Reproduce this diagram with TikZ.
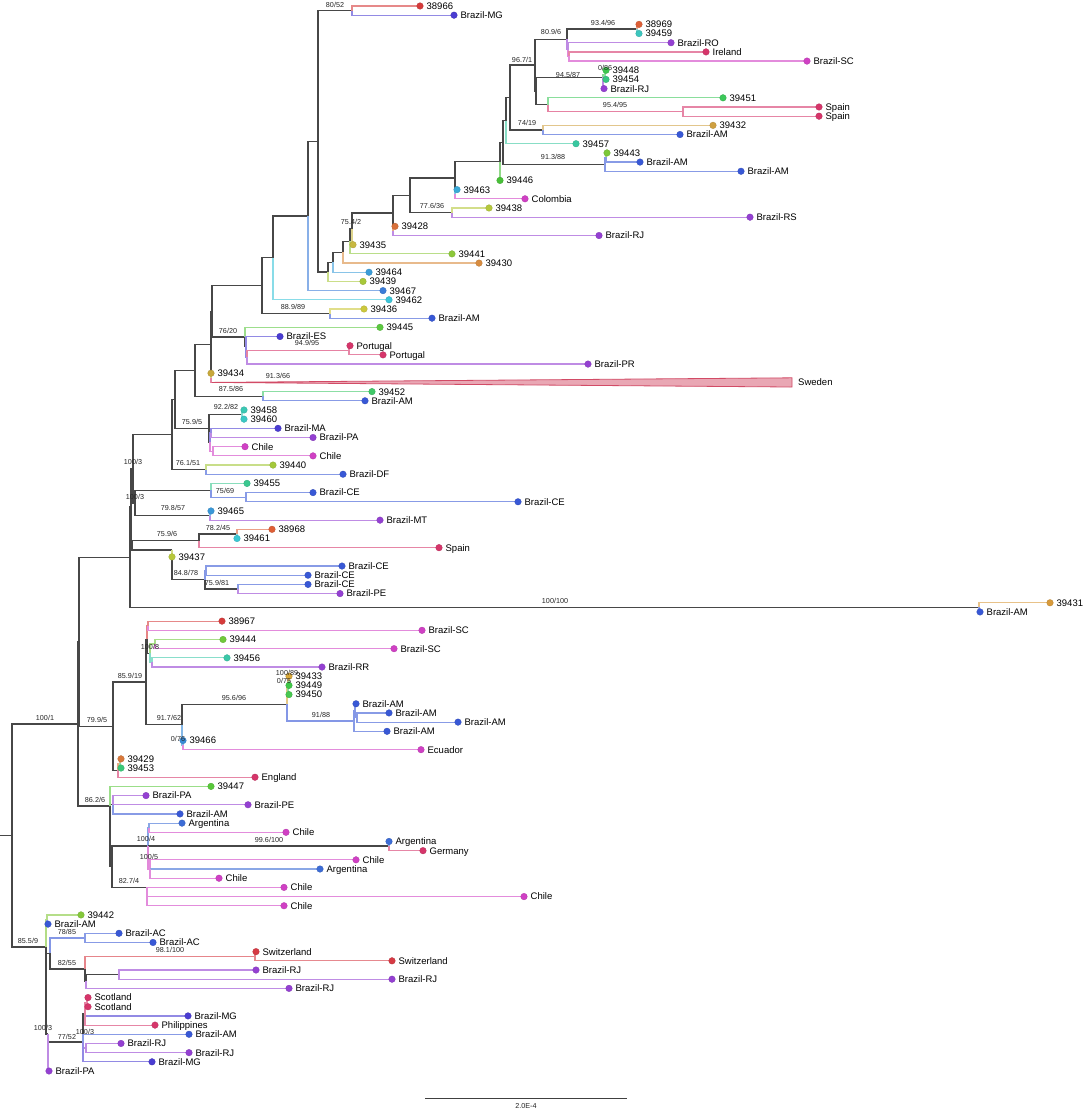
\documentclass[tikz,border=0pt]{standalone}
\usepackage{fontspec}
\setmainfont{Liberation Sans}
\usetikzlibrary{calc}
\pgfdeclarelayer{bg}
\pgfdeclarelayer{paper}
\pgfsetlayers{paper,bg,main}
\definecolor{cRed}{HTML}{D63B3B}
\definecolor{cOrRed}{HTML}{DE5F36}
\definecolor{cIndigo}{HTML}{4A3CD2}
\definecolor{cBlue}{HTML}{3858D6}
\definecolor{cArg}{HTML}{3C6CD6}
\definecolor{cPurple}{HTML}{9440D2}
\definecolor{cMag}{HTML}{D040C4}
\definecolor{cCrim}{HTML}{D6356A}
\definecolor{cSwiss}{HTML}{D63A44}
\definecolor{swf}{HTML}{E9A7B4}
\definecolor{swd}{HTML}{D24B66}
\definecolor{k39459}{HTML}{3CC6BE}
\definecolor{k39448}{HTML}{3DC84E}
\definecolor{k39454}{HTML}{38C880}
\definecolor{k39451}{HTML}{3CC85A}
\definecolor{k39432}{HTML}{CFA040}
\definecolor{k39457}{HTML}{38C8A0}
\definecolor{k39443}{HTML}{7CC838}
\definecolor{k39446}{HTML}{48C038}
\definecolor{k39463}{HTML}{3AAAD8}
\definecolor{k39438}{HTML}{B5C83C}
\definecolor{k39428}{HTML}{D8703A}
\definecolor{k39435}{HTML}{C8B840}
\definecolor{k39441}{HTML}{8CC83A}
\definecolor{k39430}{HTML}{D88C40}
\definecolor{k39464}{HTML}{3A9CD8}
\definecolor{k39439}{HTML}{A8C83A}
\definecolor{k39467}{HTML}{3A7CD8}
\definecolor{k39462}{HTML}{3AC4D8}
\definecolor{k39436}{HTML}{CCC83C}
\definecolor{k39445}{HTML}{5CC840}
\definecolor{k39434}{HTML}{C8A83A}
\definecolor{k39452}{HTML}{40C868}
\definecolor{k39458}{HTML}{3AC8B4}
\definecolor{k39460}{HTML}{3AC8C4}
\definecolor{k39440}{HTML}{A4C83A}
\definecolor{k39455}{HTML}{3AC890}
\definecolor{k39465}{HTML}{3A98D8}
\definecolor{k39461}{HTML}{3AC8D4}
\definecolor{k39437}{HTML}{B8C83A}
\definecolor{k39431}{HTML}{D89A3A}
\definecolor{k39444}{HTML}{70C83A}
\definecolor{k39456}{HTML}{3AC8A8}
\definecolor{k39433}{HTML}{D8A83A}
\definecolor{k39449}{HTML}{40C848}
\definecolor{k39450}{HTML}{48C850}
\definecolor{k39466}{HTML}{3A8CD8}
\definecolor{k39429}{HTML}{D8783A}
\definecolor{k39453}{HTML}{3AC878}
\definecolor{k39447}{HTML}{58C83A}
\definecolor{k39442}{HTML}{84C83A}
\tikzset{
  dotn/.style={circle, inner sep=0pt, minimum size=6.6pt, fill=#1, draw=#1!85!black, line width=0.3pt},
  lab/.style={font=\fontsize{9.5}{10}\selectfont, inner sep=0pt, anchor=base west},
  blab/.style={font=\fontsize{7.2}{8}\selectfont, inner sep=0pt, text=black!85},
  ie/.style={draw=black!72, line width=1.3pt},
  iec/.style={draw=#1!62!white, line width=1.25pt},
  te/.style={draw=#1!60!white, line width=1.2pt},
}
\newcommand{\inod}[3]{\coordinate (#1) at (#2,{6+(#3-1)*9.181});}
\newcommand{\iedge}[2]{\draw[ie] (#1) |- (#2);}
\newcommand{\cedge}[3]{\draw[iec=#1] (#2) |- (#3);}
\newcommand{\leafn}[6]{%
  \node[dotn=#5] (#1) at (#4,{6+(#3-1)*9.181}) {};%
  \node[lab] (#1t) at ([xshift=3pt,yshift=-3.4pt]#1.east) {#6};%
  \begin{pgfonlayer}{bg}\draw[te=#5] (#2) |- (#1);\end{pgfonlayer}}
\begin{document}
\begin{tikzpicture}[x=1pt,y=-1pt]
\begin{pgfonlayer}{paper}
\fill[white] (0,0) rectangle (1084,1110);
\end{pgfonlayer}
\path[use as bounding box] (0,0) rectangle (1084,1110);
% internal nodes
\inod{n8052}{352}{1.5}
\inod{n934}{637}{3.5}
\inod{nire}{569}{6.5}
\inod{nro}{568}{5.75}
\inod{n809}{567}{4.625}
\inod{n086}{605}{8.5}
\inod{n945}{603}{8.75}
\inod{nsp}{683}{12.5}
\inod{ng51}{548}{11.75}
\inod{p16}{536}{10.25}
\inod{p15}{535}{7.44}
\inod{n7419}{543}{14.5}
\inod{p14}{510}{10.97}
\inod{p13}{506}{13.49}
\inod{n913a}{606}{17.5}
\inod{n913}{605}{18.25}
\inod{p12}{503}{15.87}
\inod{p10}{500}{17.94}
\inod{p11}{455}{21.5}
\inod{p8}{455}{19.72}
\inod{p9}{452}{23.5}
\inod{p6}{410}{21.61}
\inod{p7}{393}{25.5}
\inod{p5}{393}{23.55}
\inod{p4a}{352}{25.28}
\inod{p4}{350}{26.64}
\inod{p3}{343}{27.82}
\inod{p2}{333}{28.91}
\inod{p1}{328}{29.96}
\inod{na}{318}{15.73}
\inod{nb}{308}{23.86}
\inod{nc}{273}{28.43}
\inod{ne}{330}{34.5}
\inod{nd}{262}{31.47}
\inod{nport}{349}{38.5}
\inod{ng3}{247}{39.25}
\inod{ng2}{246}{38.125}
\inod{n7620}{245}{37.06}
\inod{nf1}{212}{34.26}
\inod{nsw}{211}{41.5}
\inod{nf}{211}{37.88}
\inod{n875}{263}{43.5}
\inod{nh}{195}{40.69}
\inod{n922}{242}{45.5}
\inod{nm1}{211}{47.5}
\inod{nm2}{213}{49.5}
\inod{nm}{210}{48.5}
\inod{n7595}{209}{47}
\inod{nh2}{175}{43.85}
\inod{n761}{206}{51.5}
\inod{nj}{172}{47.67}
\inod{n7569b}{246}{54.5}
\inod{nk}{211}{53.75}
\inod{n798}{210}{56.5}
\inod{u4}{135}{55.125}
\inod{u2}{133}{51.4}
\inod{n782}{237}{58.5}
\inod{n7596}{199}{59.25}
\inod{nq}{206}{62.5}
\inod{n75981}{238}{64.5}
\inod{n848b}{205}{63.5}
\inod{n848}{172}{60.25}
\inod{u3}{132}{59.75}
\inod{u1}{131}{55.57}
\inod{n31}{979}{66.5}
\inod{a1}{130}{61.04}
\inod{pa}{148}{68.5}
\inod{pb}{155}{70.5}
\inod{pc}{152}{72.5}
\inod{nx}{150}{71.5}
\inod{a2c}{147}{70}
\inod{nt1}{289}{74.5}
\inod{nt}{288}{75.25}
\inod{n91b}{357}{78.5}
\inod{n91a}{355}{77.75}
\inod{n91}{354}{78.875}
\inod{n956}{287}{77.06}
\inod{n076}{183}{81.5}
\inod{a2d}{182}{79.28}
\inod{a2a}{146}{74.64}
\inod{nr}{120}{83.5}
\inod{a2b}{118}{84.25}
\inod{a2}{113}{79.45}
\inod{ap}{79}{70.24}
\inod{nv}{113}{88}
\inod{g1}{149}{90.5}
\inod{ag}{389}{92.5}
\inod{g2}{150}{95}
\inod{g0}{148}{92.5}
\inod{a3b}{147}{97}
\inod{a3m}{112}{94.75}
\inod{A3}{110}{88.14}
\inod{a}{78}{79.19}
\inod{b1}{47}{100.5}
\inod{n7885}{85}{102.5}
\inod{sw}{255}{104.5}
\inod{rjp}{119}{106.5}
\inod{q}{86}{107.25}
\inod{n8255}{85}{105.875}
\inod{b3}{50}{104.19}
\inod{scot}{87}{109.5}
\inod{sa}{85}{110.75}
\inod{sb}{86}{114.5}
\inod{n7752}{83}{113.84}
\inod{b5}{48}{112.97}
\inod{B}{46}{103.5}
\inod{root}{12}{91.35}
\inod{r0}{0}{91.35}
\inod{swA}{211.5}{42}
\inod{swE}{792}{42}
% internal edges
\begin{pgfonlayer}{bg}
\iedge{r0}{root}
\iedge{root}{a}\iedge{root}{B}
\iedge{a}{ap}\iedge{a}{A3}
\iedge{ap}{a1}\iedge{ap}{a2}
\iedge{a1}{u1}\iedge{a1}{n31}
\iedge{u1}{u2}\iedge{u1}{u3}
\iedge{u2}{nj}\iedge{u2}{u4}
\iedge{nj}{nh2}\iedge{nj}{n761}
\iedge{nh2}{nh}\iedge{nh2}{n7595}
\iedge{nh}{nf}\iedge{nh}{n875}
\iedge{nf}{nf1}\iedge{nf}{nsw}
\iedge{nf1}{nd}\iedge{nf1}{n7620}
\iedge{nd}{nc}\iedge{nd}{ne}
\iedge{nc}{nb}
\iedge{nb}{na}
\iedge{na}{n8052}\iedge{na}{p1}
\iedge{p1}{p2}\iedge{p2}{p3}\iedge{p3}{p4}\iedge{p4}{p4a}\iedge{p4a}{p5}
\iedge{p5}{p6}\iedge{p5}{p7}
\iedge{p6}{p8}\iedge{p6}{p9}
\iedge{p8}{p10}\iedge{p8}{p11}
\iedge{p10}{p12}
\iedge{p12}{p13}\iedge{p12}{n913}
\iedge{p13}{p14}
\iedge{p14}{p15}\iedge{p14}{n7419}
\iedge{p15}{n809}\iedge{p15}{p16}
\iedge{n809}{n934}\cedge{cPurple}{n809}{nro}
\cedge{cMag}{nro}{nire}
\iedge{p16}{n945}\iedge{p16}{ng51}
\cedge{k39448}{n945}{n086}
\cedge{cCrim}{ng51}{nsp}
\cedge{cBlue}{n913}{n913a}
\iedge{n7620}{ng2}\cedge{cIndigo}{ng2}{ng3}
\cedge{cCrim}{ng3}{nport}
\iedge{n7595}{n922}\iedge{n7595}{nm}
\cedge{cIndigo}{nm}{nm1}\cedge{cMag}{nm}{nm2}
\iedge{u4}{nk}\iedge{u4}{n798}
\cedge{cBlue}{nk}{n7569b}
\iedge{u3}{n7596}\iedge{u3}{n848}
\iedge{n7596}{n782}
\iedge{n848}{n848b}
\cedge{cBlue}{n848b}{nq}\iedge{n848b}{n75981}
\iedge{a2}{a2a}\iedge{a2}{a2b}
\iedge{a2a}{a2c}\iedge{a2a}{a2d}
\cedge{cRed}{a2c}{pa}\iedge{a2c}{nx}
\cedge{k39444}{nx}{pb}\cedge{k39456}{nx}{pc}
\iedge{a2d}{n956}\cedge{k39466}{a2d}{n076}
\cedge{k39433}{n956}{nt}\cedge{cBlue}{n956}{n91}
\cedge{k39433}{nt}{nt1}
\cedge{cBlue}{n91}{n91a}\cedge{cBlue}{n91a}{n91b}
\cedge{k39429}{a2b}{nr}
\iedge{A3}{nv}\iedge{A3}{a3m}
\iedge{a3m}{g0}\iedge{a3m}{a3b}
\cedge{cArg}{g0}{g1}\iedge{g0}{ag}\cedge{cMag}{g0}{g2}
\cedge{k39442}{B}{b1}\iedge{B}{b3}\iedge{B}{b5}
\cedge{cBlue}{b3}{n7885}\iedge{b3}{n8255}
\cedge{cSwiss}{n8255}{sw}\iedge{n8255}{q}
\iedge{q}{rjp}
\iedge{b5}{n7752}
\iedge{n7752}{sa}\cedge{cPurple}{n7752}{sb}
\cedge{cCrim}{sa}{scot}
% Sweden collapsed clade
\draw[te=cCrim] (nsw) |- (swA);
\filldraw[fill=swf, draw=swd, line width=0.8pt] (swA) -- ([yshift=4.6pt]swE) -- ([yshift=-4.6pt]swE) -- cycle;
\end{pgfonlayer}
\node[lab] (SweT) at ([xshift=6pt,yshift=-3.4pt]swE) {Sweden};
% leaves
\leafn{L1}{n8052}{1}{420}{cRed}{38966}
\leafn{L2}{n8052}{2}{454}{cIndigo}{Brazil-MG}
\leafn{L3}{n934}{3}{639}{cOrRed}{38969}
\leafn{L4}{n934}{4}{639}{k39459}{39459}
\leafn{L5}{nro}{5}{671}{cPurple}{Brazil-RO}
\leafn{L6}{nire}{6}{706}{cCrim}{Ireland}
\leafn{L7}{nire}{7}{807}{cMag}{Brazil-SC}
\leafn{L8}{n086}{8}{606}{k39448}{39448}
\leafn{L9}{n086}{9}{606}{k39454}{39454}
\leafn{L10}{n945}{10}{604}{cPurple}{Brazil-RJ}
\leafn{L11}{ng51}{11}{723}{k39451}{39451}
\leafn{L12}{nsp}{12}{819}{cCrim}{Spain}
\leafn{L13}{nsp}{13}{819}{cCrim}{Spain}
\leafn{L14}{n7419}{14}{713}{k39432}{39432}
\leafn{L15}{n7419}{15}{680}{cBlue}{Brazil-AM}
\leafn{L16}{p13}{16}{576}{k39457}{39457}
\leafn{L17}{n913a}{17}{607}{k39443}{39443}
\leafn{L18}{n913a}{18}{640}{cBlue}{Brazil-AM}
\leafn{L19}{n913}{19}{741}{cBlue}{Brazil-AM}
\leafn{L20}{p10}{20}{500}{k39446}{39446}
\leafn{L21}{p11}{21}{457}{k39463}{39463}
\leafn{L22}{p11}{22}{525}{cMag}{Colombia}
\leafn{L23}{p9}{23}{489}{k39438}{39438}
\leafn{L24}{p9}{24}{750}{cPurple}{Brazil-RS}
\leafn{L25}{p7}{25}{395}{k39428}{39428}
\leafn{L26}{p7}{26}{599}{cPurple}{Brazil-RJ}
\leafn{L27}{p4a}{27}{353}{k39435}{39435}
\leafn{L28}{p4}{28}{452}{k39441}{39441}
\leafn{L29}{p3}{29}{479}{k39430}{39430}
\leafn{L30}{p2}{30}{369}{k39464}{39464}
\leafn{L31}{p1}{31}{363}{k39439}{39439}
\leafn{L32}{nb}{32}{383}{k39467}{39467}
\leafn{L33}{nc}{33}{389}{k39462}{39462}
\leafn{L34}{ne}{34}{364}{k39436}{39436}
\leafn{L35}{ne}{35}{432}{cBlue}{Brazil-AM}
\leafn{L36}{n7620}{36}{380}{k39445}{39445}
\leafn{L37}{ng2}{37}{280}{cIndigo}{Brazil-ES}
\leafn{L38}{nport}{38}{350}{cCrim}{Portugal}
\leafn{L39}{nport}{39}{383}{cCrim}{Portugal}
\leafn{L40}{ng3}{40}{588}{cPurple}{Brazil-PR}
\leafn{L41}{nsw}{41}{211}{k39434}{39434}
\leafn{L43}{n875}{43}{372}{k39452}{39452}
\leafn{L44}{n875}{44}{365}{cBlue}{Brazil-AM}
\leafn{L45}{n922}{45}{244}{k39458}{39458}
\leafn{L46}{n922}{46}{244}{k39460}{39460}
\leafn{L47}{nm1}{47}{278}{cIndigo}{Brazil-MA}
\leafn{L48}{nm1}{48}{313}{cPurple}{Brazil-PA}
\leafn{L49}{nm2}{49}{245}{cMag}{Chile}
\leafn{L50}{nm2}{50}{313}{cMag}{Chile}
\leafn{L51}{n761}{51}{273}{k39440}{39440}
\leafn{L52}{n761}{52}{343}{cBlue}{Brazil-DF}
\leafn{L53}{nk}{53}{247}{k39455}{39455}
\leafn{L54}{n7569b}{54}{313}{cBlue}{Brazil-CE}
\leafn{L55}{n7569b}{55}{518}{cBlue}{Brazil-CE}
\leafn{L56}{n798}{56}{211}{k39465}{39465}
\leafn{L57}{n798}{57}{380}{cPurple}{Brazil-MT}
\leafn{L58}{n782}{58}{272}{cOrRed}{38968}
\leafn{L59}{n782}{59}{237}{k39461}{39461}
\leafn{L60}{n7596}{60}{439}{cCrim}{Spain}
\leafn{L61}{n848}{61}{172}{k39437}{39437}
\leafn{L62}{nq}{62}{342}{cBlue}{Brazil-CE}
\leafn{L63}{nq}{63}{308}{cBlue}{Brazil-CE}
\leafn{L64}{n75981}{64}{308}{cBlue}{Brazil-CE}
\leafn{L65}{n75981}{65}{340}{cPurple}{Brazil-PE}
\leafn{L66}{n31}{66}{1050}{k39431}{39431}
\leafn{L67}{n31}{67}{980}{cBlue}{Brazil-AM}
\leafn{L68}{pa}{68}{222}{cRed}{38967}
\leafn{L69}{pa}{69}{422}{cMag}{Brazil-SC}
\leafn{L70}{pb}{70}{223}{k39444}{39444}
\leafn{L71}{pb}{71}{394}{cMag}{Brazil-SC}
\leafn{L72}{pc}{72}{227}{k39456}{39456}
\leafn{L73}{pc}{73}{322}{cPurple}{Brazil-RR}
\leafn{L74}{nt1}{74}{289}{k39433}{39433}
\leafn{L75}{nt1}{75}{289}{k39449}{39449}
\leafn{L76}{nt}{76}{289}{k39450}{39450}
\leafn{L77}{n91a}{77}{356}{cBlue}{Brazil-AM}
\leafn{L78}{n91b}{78}{389}{cBlue}{Brazil-AM}
\leafn{L79}{n91b}{79}{458}{cBlue}{Brazil-AM}
\leafn{L80}{n91}{80}{387}{cBlue}{Brazil-AM}
\leafn{L81}{n076}{81}{183}{k39466}{39466}
\leafn{L82}{n076}{82}{421}{cMag}{Ecuador}
\leafn{L83}{nr}{83}{121}{k39429}{39429}
\leafn{L84}{nr}{84}{121}{k39453}{39453}
\leafn{L85}{a2b}{85}{255}{cCrim}{England}
\leafn{L86}{A3}{86}{211}{k39447}{39447}
\leafn{L87}{nv}{87}{146}{cPurple}{Brazil-PA}
\leafn{L88}{nv}{88}{248}{cPurple}{Brazil-PE}
\leafn{L89}{nv}{89}{180}{cBlue}{Brazil-AM}
\leafn{L90}{g1}{90}{182}{cArg}{Argentina}
\leafn{L91}{g1}{91}{286}{cMag}{Chile}
\leafn{L92}{ag}{92}{389}{cArg}{Argentina}
\leafn{L93}{ag}{93}{423}{cCrim}{Germany}
\leafn{L94}{g2}{94}{356}{cMag}{Chile}
\leafn{L95}{g2}{95}{320}{cArg}{Argentina}
\leafn{L96}{g2}{96}{219}{cMag}{Chile}
\leafn{L97}{a3b}{97}{284}{cMag}{Chile}
\leafn{L98}{a3b}{98}{524}{cMag}{Chile}
\leafn{L99}{a3b}{99}{284}{cMag}{Chile}
\leafn{L100}{b1}{100}{81}{k39442}{39442}
\leafn{L101}{b1}{101}{48}{cBlue}{Brazil-AM}
\leafn{L102}{n7885}{102}{119}{cBlue}{Brazil-AC}
\leafn{L103}{n7885}{103}{153}{cBlue}{Brazil-AC}
\leafn{L104}{sw}{104}{256}{cSwiss}{Switzerland}
\leafn{L105}{sw}{105}{392}{cSwiss}{Switzerland}
\leafn{L106}{rjp}{106}{256}{cPurple}{Brazil-RJ}
\leafn{L107}{rjp}{107}{392}{cPurple}{Brazil-RJ}
\leafn{L108}{q}{108}{289}{cPurple}{Brazil-RJ}
\leafn{L109}{scot}{109}{88}{cCrim}{Scotland}
\leafn{L110}{scot}{110}{88}{cCrim}{Scotland}
\leafn{L111}{sa}{111}{188}{cIndigo}{Brazil-MG}
\leafn{L112}{sa}{112}{155}{cCrim}{Philippines}
\leafn{L113}{n7752}{113}{189}{cBlue}{Brazil-AM}
\leafn{L114}{sb}{114}{121}{cPurple}{Brazil-RJ}
\leafn{L115}{sb}{115}{189}{cPurple}{Brazil-RJ}
\leafn{L116}{n7752}{116}{152}{cIndigo}{Brazil-MG}
\leafn{L117}{b5}{117}{49}{cPurple}{Brazil-PA}
% branch labels
\node[blab] (bl1) at (335,5) {80/52};
\node[blab] (bl2) at (603,23) {93.4/96};
\node[blab] (bl3) at (551,32) {80.9/6};
\node[blab] (bl4) at (522,60) {96.7/1};
\node[blab] (bl5) at (605,68) {0/86};
\node[blab] (bl6) at (568,75) {94.5/87};
\node[blab] (bl7) at (615,105) {95.4/95};
\node[blab] (bl8) at (527,123) {74/19};
\node[blab] (bl9) at (553,157) {91.3/88};
\node[blab] (bl10) at (432,206) {77.6/36};
\node[blab] (bl11) at (351,222) {75.4/2};
\node[blab] (bl12) at (293,307) {88.9/89};
\node[blab] (bl13) at (228,331) {76/20};
\node[blab] (bl14) at (307,343) {94.9/95};
\node[blab] (bl15) at (278,376) {91.3/66};
\node[blab] (bl16) at (231,389) {87.5/86};
\node[blab] (bl17) at (226,407) {92.2/82};
\node[blab] (bl18) at (192,422) {75.9/5};
\node[blab] (bl19) at (133,462) {100/3};
\node[blab] (bl20) at (188,463) {76.1/51};
\node[blab] (bl21) at (225,491) {75/69};
\node[blab] (bl22) at (135,497) {100/3};
\node[blab] (bl23) at (173,508) {79.8/57};
\node[blab] (bl24) at (218,528) {78.2/45};
\node[blab] (bl25) at (167,534) {75.9/6};
\node[blab] (bl26) at (186,573) {84.8/78};
\node[blab] (bl27) at (217,583) {75.9/81};
\node[blab] (bl28) at (555,601) {100/100};
\node[blab] (bl29) at (150,647) {100/8};
\node[blab] (bl30) at (130,676) {85.9/19};
\node[blab] (bl31) at (287,673) {100/89};
\node[blab] (bl32) at (284,681) {0/75};
\node[blab] (bl33) at (234,698) {95.6/96};
\node[blab] (bl34) at (321,715) {91/88};
\node[blab] (bl35) at (45,718) {100/1};
\node[blab] (bl36) at (169,718) {91.7/62};
\node[blab] (bl37) at (97,720) {79.9/5};
\node[blab] (bl38) at (178,739) {0/76};
\node[blab] (bl39) at (95,800) {86.2/6};
\node[blab] (bl40) at (146,839) {100/4};
\node[blab] (bl41) at (269,840) {99.6/100};
\node[blab] (bl42) at (149,857) {100/5};
\node[blab] (bl43) at (129,881) {82.7/4};
\node[blab] (bl44) at (67,932) {78/85};
\node[blab] (bl45) at (28,941) {85.5/9};
\node[blab] (bl46) at (170,950) {98.1/100};
\node[blab] (bl47) at (67,963) {82/55};
\node[blab] (bl48) at (43,1028) {100/3};
\node[blab] (bl49) at (85,1032) {100/3};
\node[blab] (bl50) at (67,1037) {77/52};
% scale bar
\coordinate (sb1) at (425,1098);
\coordinate (sb2) at (627,1098);
\draw[line width=1pt, black!75] (sb1) -- (sb2);
\node[blab] (sbl) at (526,1106) {2.0E-4};
\end{tikzpicture}
\end{document}
